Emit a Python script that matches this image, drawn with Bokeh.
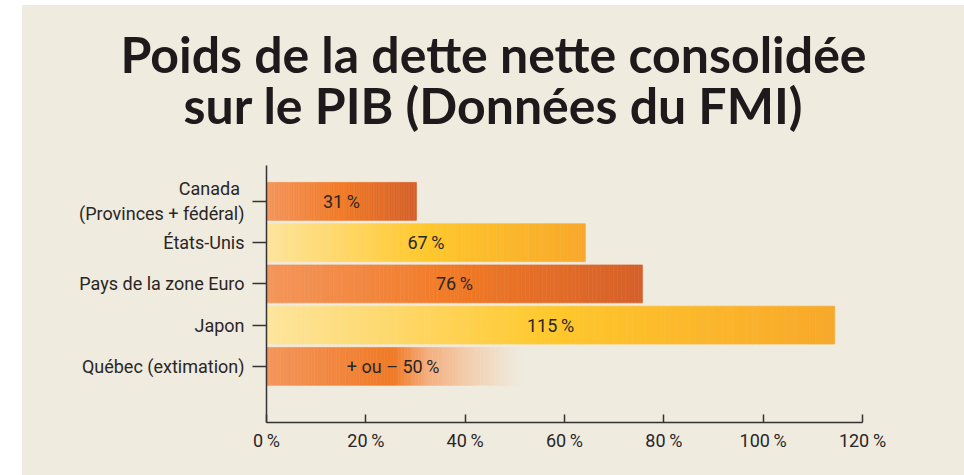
from bokeh.plotting import figure
from bokeh.layouts import column
from bokeh.models import FixedTicker, Range1d
from bokeh.core.properties import value
from bokeh.embed import file_html
from bokeh.resources import INLINE

# ---- data ----
categories = ["Canada \n(Provinces + fédéral)", "États-Unis", "Pays de la zone Euro", "Japon", "Québec (extimation)"]
bar_values = [30.2, 64.2, 75.7, 114.4, 51]          # drawn bar lengths (%)
value_labels = ["31\u2009%", "67\u2009%", "76\u2009%", "115\u2009%", "+ ou – 50\u2009%"]
color_schemes = ["orange", "yellow", "orange", "yellow", "fade"]
x_ticks = [0, 20, 40, 60, 80, 100, 120]
x_tick_labels = ["0\u2009%", "20\u2009%", "40\u2009%", "60\u2009%", "80\u2009%", "100\u2009%", "120\u2009%"]
title_lines = ["Poids de la dette nette consolidée", "sur le PIB (Données du FMI)"]

BG = "#EFEBDE"
TXT = "#2A2627"
FONT = "Roboto"

stops = {
    "orange": [(0.0, (244, 150, 92)), (0.5, (241, 122, 38)), (1.0, (213, 96, 42))],
    "yellow": [(0.0, (254, 229, 158)), (0.5, (255, 200, 44)), (1.0, (248, 168, 42))],
    "fade": [(0.0, (244, 150, 92)), (0.5, (240, 122, 38)), (0.64, (245, 175, 128)),
             (0.82, (242, 210, 180)), (1.0, (239, 235, 222))],
}

def interp(scheme, t):
    s = stops[scheme]
    for (t0, c0), (t1, c1) in zip(s[:-1], s[1:]):
        if t0 <= t <= t1:
            f = (t - t0) / (t1 - t0)
            c = tuple(int(round(a + (b - a) * f)) for a, b in zip(c0, c1))
            return "#%02x%02x%02x" % c
    return "#%02x%02x%02x" % s[-1][1]

n = len(categories)
ypos = [n - i for i in range(n)]  # Canada at top

# ---- title figure ----
TW, TH = 942, 155
t = figure(width=TW, height=TH, output_backend="svg", toolbar_location=None,
           x_range=Range1d(0, TW), y_range=Range1d(0, TH), title=None,
           min_border=0, background_fill_color=BG, border_fill_color=BG,
           outline_line_color=None, margin=(0, 0, 0, 0))
t.frame_align = False
t.axis.visible = False
t.grid.visible = False
t.text(x=[471, 471], y=[TH - 48, TH - 99], text=title_lines,
       text_align="center", text_baseline="alphabetic", text_font=value("Lato"),
       text_font_style="bold", text_font_size="50px", text_color="#1E1A1B")

# ---- main figure ----
p = figure(width=942, height=315, output_backend="svg", toolbar_location=None,
           x_range=Range1d(0, 120), y_range=Range1d(-0.36, 5.87),
           min_border_left=244, min_border_right=102, min_border_top=5, min_border_bottom=53,
           background_fill_color=BG, border_fill_color=BG, outline_line_color=None,
           margin=(0, 0, 0, 0))
p.frame_align = False

# gradient bars built from slices of each bar value
N = 90
for v, y, sch in zip(bar_values, ypos, color_schemes):
    lefts = [v * k / N for k in range(N)]
    rights = [v * (k + 1) / N for k in range(N)]
    cols = [interp(sch, (k + 0.5) / N) for k in range(N)]
    p.hbar(y=[y] * N, left=lefts, right=rights, height=0.92, fill_color=cols,
           line_color=cols, line_width=0.6)

p.text(x=[v / 2 for v in bar_values], y=ypos, text=value_labels,
       text_align="center", text_baseline="middle", text_font=value(FONT),
       text_font_size="18px", text_color=TXT)

p.xgrid.visible = False
p.ygrid.visible = False
xa = p.xaxis[0]
xa.ticker = FixedTicker(ticks=x_ticks)
xa.major_label_overrides = {tk: l for tk, l in zip(x_ticks, x_tick_labels)}
xa.major_tick_in = 8
xa.major_tick_out = 0
xa.minor_tick_line_color = None
xa.axis_line_color = "#333333"
xa.axis_line_width = 1.5
xa.major_tick_line_color = "#333333"
xa.major_tick_line_width = 1.5
xa.major_label_text_font = FONT
xa.major_label_text_font_size = "18px"
xa.major_label_text_color = TXT
xa.major_label_standoff = 7

ya = p.yaxis[0]
ya.ticker = FixedTicker(ticks=ypos)
ya.major_label_overrides = {y: c for y, c in zip(ypos, categories)}
ya.major_tick_in = 0
ya.major_tick_out = 14
ya.minor_tick_line_color = None
ya.axis_line_color = "#333333"
ya.axis_line_width = 1.5
ya.major_tick_line_color = "#333333"
ya.major_tick_line_width = 1.5
ya.major_label_text_font = FONT
ya.major_label_text_font_size = "18px"
ya.major_label_text_color = TXT
ya.major_label_standoff = 8

layout = column(t, p, spacing=0, margin=(5, 0, 0, 22), styles={"background-color": BG})

open("out.html", "w").write(file_html(layout, INLINE))
